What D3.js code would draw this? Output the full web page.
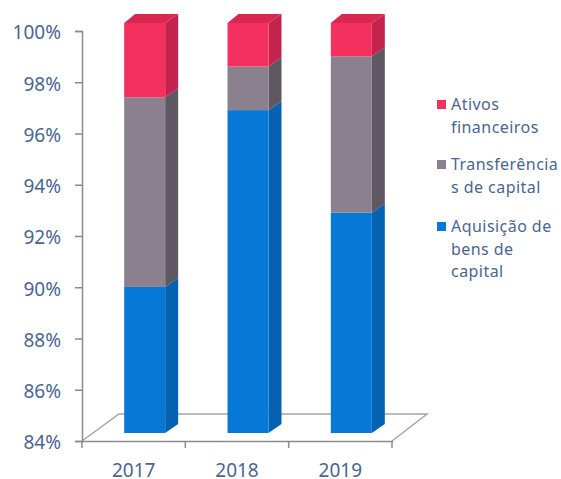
<!DOCTYPE html>
<meta charset="utf-8">
<style>
  body { margin: 0; background: #fff; }
  text { font-family: "Noto Sans", sans-serif; fill: #4a6690; }
</style>
<script src="https://d3js.org/d3.v7.min.js"></script>
<div id="my_dataviz"></div>
<script>
    // values
    const years = ["2017", "2018", "2019"];
    const aquisicao = [89.7, 96.6, 92.6];
    const transferencias = [7.4, 1.7, 6.1];
    const ativos = [2.9, 1.7, 1.3];
    const yTicks = [84, 86, 88, 90, 92, 94, 96, 98, 100];
    const seriesNames = ["aquisicao", "transferencias", "ativos"];
    const legendLabels = [
      ["Ativos", "financeiros"],
      ["Transferência", "s de capital"],
      ["Aquisição de", "bens de", "capital"]
    ];

    const colors = {
      ativos: {front: "#f4305f", side: "#c4234d", top: "#d8284f"},
      transferencias: {front: "#8b808e", side: "#5d5861", top: "#8b808e"},
      aquisicao: {front: "#0878d6", side: "#0562b2", top: "#0878d6"}
    };

    const width = 561, height = 479;
    const x0 = 82, x1 = 392, yBottom = 441, yTop = 31;

    const svg = d3.select("#my_dataviz")
      .append("svg")
        .attr("width", width)
        .attr("height", height)
        .style("display", "block");

    const x = d3.scaleBand().domain(years).range([x0, x1]);
    const y = d3.scaleLinear().domain([84, 100]).range([yBottom, yTop]).clamp(true);

    // floor of the 3d plot
    const floorDx = 37, floorDy = -27;
    svg.append("path")
      .attr("d", `M${x0},${yBottom}L${x0 + floorDx},${yBottom + floorDy}L${x1 + floorDx - 2},${yBottom + floorDy}L${x1},${yBottom}`)
      .attr("fill", "none")
      .attr("stroke", "#a8a4a4")
      .attr("stroke-width", 1.5);

    // Y axis
    const yAxis = svg.append("g")
      .attr("transform", `translate(${x0},0)`)
      .call(d3.axisLeft(y).tickValues(yTicks).tickSize(7).tickFormat(d => d + "%"));
    yAxis.selectAll("path, line").attr("stroke", "#8c8a8c").attr("stroke-width", 1.5);
    yAxis.selectAll("text").style("font-size", "19px").attr("x", -21).attr("dy", "0.42em");

    // X axis, ticks sit between the categories
    const xAxis = svg.append("g")
      .attr("transform", `translate(0,${yBottom})`)
      .call(d3.axisBottom(x).tickSize(0).tickPadding(23));
    xAxis.select("path").attr("stroke", "#8c8a8c").attr("stroke-width", 1.5);
    xAxis.selectAll("text").style("font-size", "19px");
    svg.append("g").selectAll("line")
      .data([...years.map(d => x(d)), x1])
      .join("line")
        .attr("x1", d => d).attr("x2", d => d)
        .attr("y1", yBottom).attr("y2", yBottom + 7)
        .attr("stroke", "#8c8a8c").attr("stroke-width", 1.5);

    // stacked 3d bars
    const table = years.map((year, i) => ({
      year: year,
      aquisicao: aquisicao[i],
      transferencias: transferencias[i],
      ativos: ativos[i]
    }));
    const stacked = d3.stack().keys(seriesNames)(table);

    const barWidth = 41, barShift = 11, barLift = -8, depthX = 13, depthY = -9;
    const left = d => x(d.data.year) + x.bandwidth() / 2 - barWidth / 2 + barShift;
    const yy = v => y(v) + barLift;

    stacked.forEach(function(s) {
      const g = svg.append("g");
      const c = colors[s.key];
      g.selectAll("path.side")
        .data(s)
        .join("path")
          .attr("class", "side")
          .attr("fill", c.side)
          .attr("d", d => {
            const r = left(d) + barWidth;
            return `M${r},${yy(d[0])}L${r + depthX},${yy(d[0]) + depthY}L${r + depthX},${yy(d[1]) + depthY}L${r},${yy(d[1])}Z`;
          });
      g.selectAll("rect")
        .data(s)
        .join("rect")
          .attr("x", left)
          .attr("y", d => yy(d[1]))
          .attr("width", barWidth)
          .attr("height", d => yy(d[0]) - yy(d[1]))
          .attr("fill", c.front);
    });

    // top face only on the last series
    const last = stacked[stacked.length - 1];
    svg.append("g").selectAll("path")
      .data(last)
      .join("path")
        .attr("fill", colors[last.key].top)
        .attr("d", d => {
          const l = left(d), t = yy(d[1]);
          return `M${l},${t}L${l + depthX - 2},${t + depthY}L${l + barWidth + depthX},${t + depthY}L${l + barWidth},${t}Z`;
        });

    // legend
    const legendKeys = ["ativos", "transferencias", "aquisicao"];
    const legendY = [105, 165, 227];
    const lineH = 22.5;
    const legend = svg.append("g").selectAll("g")
      .data(legendKeys)
      .join("g")
        .attr("transform", (d, i) => `translate(437,${legendY[i]})`);
    legend.append("rect")
      .attr("y", -5)
      .attr("width", 9)
      .attr("height", 9)
      .attr("fill", d => colors[d].front);
    legend.append("text")
      .attr("x", 14)
      .style("font-size", "16px")
      .style("letter-spacing", "0.45px")
      .selectAll("tspan")
      .data((d, i) => legendLabels[i])
      .join("tspan")
        .attr("x", 14)
        .attr("y", (d, i) => i * lineH)
        .attr("dy", "0.32em")
        .text(d => d);
</script>
